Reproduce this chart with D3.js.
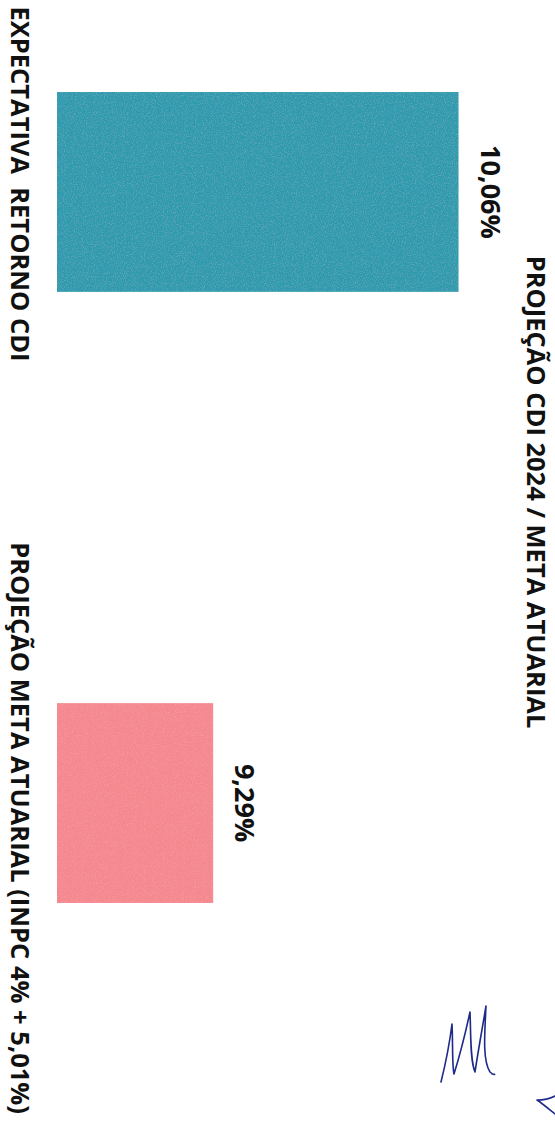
<!DOCTYPE html>
<html>
<head>
<meta charset="utf-8">
<script src="https://cdn.jsdelivr.net/npm/d3@7"></script>
<style>
  html, body { margin: 0; padding: 0; background: #ffffff; }
  svg { display: block; }
  text { font-family: "Open Sans", "DejaVu Sans", sans-serif; font-weight: 700; fill: #111; white-space: pre; }
</style>
</head>
<body>
<script>
// Chart content
const chartTitle = "PROJEÇÃO CDI 2024 / META ATUARIAL";
const categories = ["EXPECTATIVA  RETORNO CDI", "PROJEÇÃO META ATUARIAL (INPC 4% + 5,01%)"];
const values = [10.06, 9.29];
const valueLabels = ["10,06%", "9,29%"];
const barColors = ["#2e9aae", "#f5878f"];

const W = 555, H = 1129;

const svg = d3.select("body").append("svg")
  .attr("width", W).attr("height", H);

// light paper-grain texture over the filled bars
const defs = svg.append("defs");
const grain = defs.append("filter").attr("id", "grain")
  .attr("x", 0).attr("y", 0).attr("width", 1).attr("height", 1);
grain.append("feTurbulence").attr("type", "fractalNoise")
  .attr("baseFrequency", 0.9).attr("numOctaves", 2).attr("seed", 3).attr("result", "noise");
grain.append("feColorMatrix").attr("in", "noise").attr("type", "matrix")
  .attr("values", "0 0 0 0 1  0 0 0 0 1  0 0 0 0 1  1.2 0 0 0 -0.55").attr("result", "specks");
grain.append("feComposite").attr("in", "specks").attr("in2", "SourceGraphic")
  .attr("operator", "in").attr("result", "specksIn");
grain.append("feComponentTransfer").attr("in", "specksIn").attr("result", "soft")
  .append("feFuncA").attr("type", "linear").attr("slope", 0.22);
const merge = grain.append("feMerge");
merge.append("feMergeNode").attr("in", "SourceGraphic");
merge.append("feMergeNode").attr("in", "soft");

// Page is laid out sideways: values run left→right, categories top→bottom,
// and all text is turned 90° to read downward.
const x = d3.scaleLinear().domain([8.8, 10.3]).range([57, 535]);
const y = d3.scaleBand().domain(categories).range([0, 995])
  .paddingInner(0.673).paddingOuter(0.1506);

// bars
svg.append("g").selectAll("rect")
  .data(categories)
  .join("rect")
  .attr("x", x(8.8))
  .attr("y", d => y(d))
  .attr("width", (d, i) => x(values[i]) - x(8.8))
  .attr("height", y.bandwidth())
  .attr("fill", (d, i) => barColors[i])
  .attr("filter", "url(#grain)");

// value labels beyond bar ends
svg.append("g").selectAll("text")
  .data(categories)
  .join("text")
  .attr("transform", (d, i) => `translate(${x(values[i]) + 22},${y(d) + y.bandwidth() / 2}) rotate(90)`)
  .attr("text-anchor", "middle")
  .style("font-size", "27px")
  .text((d, i) => valueLabels[i]);

// category axis labels along the left edge
const labelShift = [-8, 25];
const axis = d3.axisLeft(y).tickSize(0).tickPadding(0);
const gAxis = svg.append("g").attr("transform", "translate(11,0)").call(axis);
gAxis.select(".domain").remove();
gAxis.selectAll(".tick text")
  .attr("x", 0).attr("dy", null)
  .attr("transform", (d, i) => `translate(0,${labelShift[i]}) rotate(90)`)
  .attr("text-anchor", "middle")
  .style("font-family", "'Open Sans', sans-serif")
  .style("font-weight", "700")
  .style("font-size", "25.5px")
  .style("white-space", "pre")
  .attr("fill", "#111");

// chart title on the right edge
svg.append("text")
  .attr("transform", "translate(527,492) rotate(90)")
  .attr("text-anchor", "middle")
  .style("font-size", "25.5px")
  .text(chartTitle);

// handwritten initials in the lower right corner
const ink = svg.append("g").attr("fill", "none").attr("stroke", "#1d2a8a")
  .attr("stroke-width", 1.6).attr("stroke-linecap", "round").attr("stroke-linejoin", "round");
ink.append("path")
  .attr("d", "M441,1082 C446,1062 450,1040 452,1024 C453,1045 452,1065 454,1074 C459,1058 465,1035 470,1012 C471,1035 470,1060 475,1072 C478,1052 482,1030 486,1006 C485,1030 482,1060 490,1072 C494,1076 497,1074 492,1074");
ink.append("path")
  .attr("d", "M555,1096 C549,1099 542,1100 537,1100 C543,1104 550,1110 555,1114");
</script>
</body>
</html>
